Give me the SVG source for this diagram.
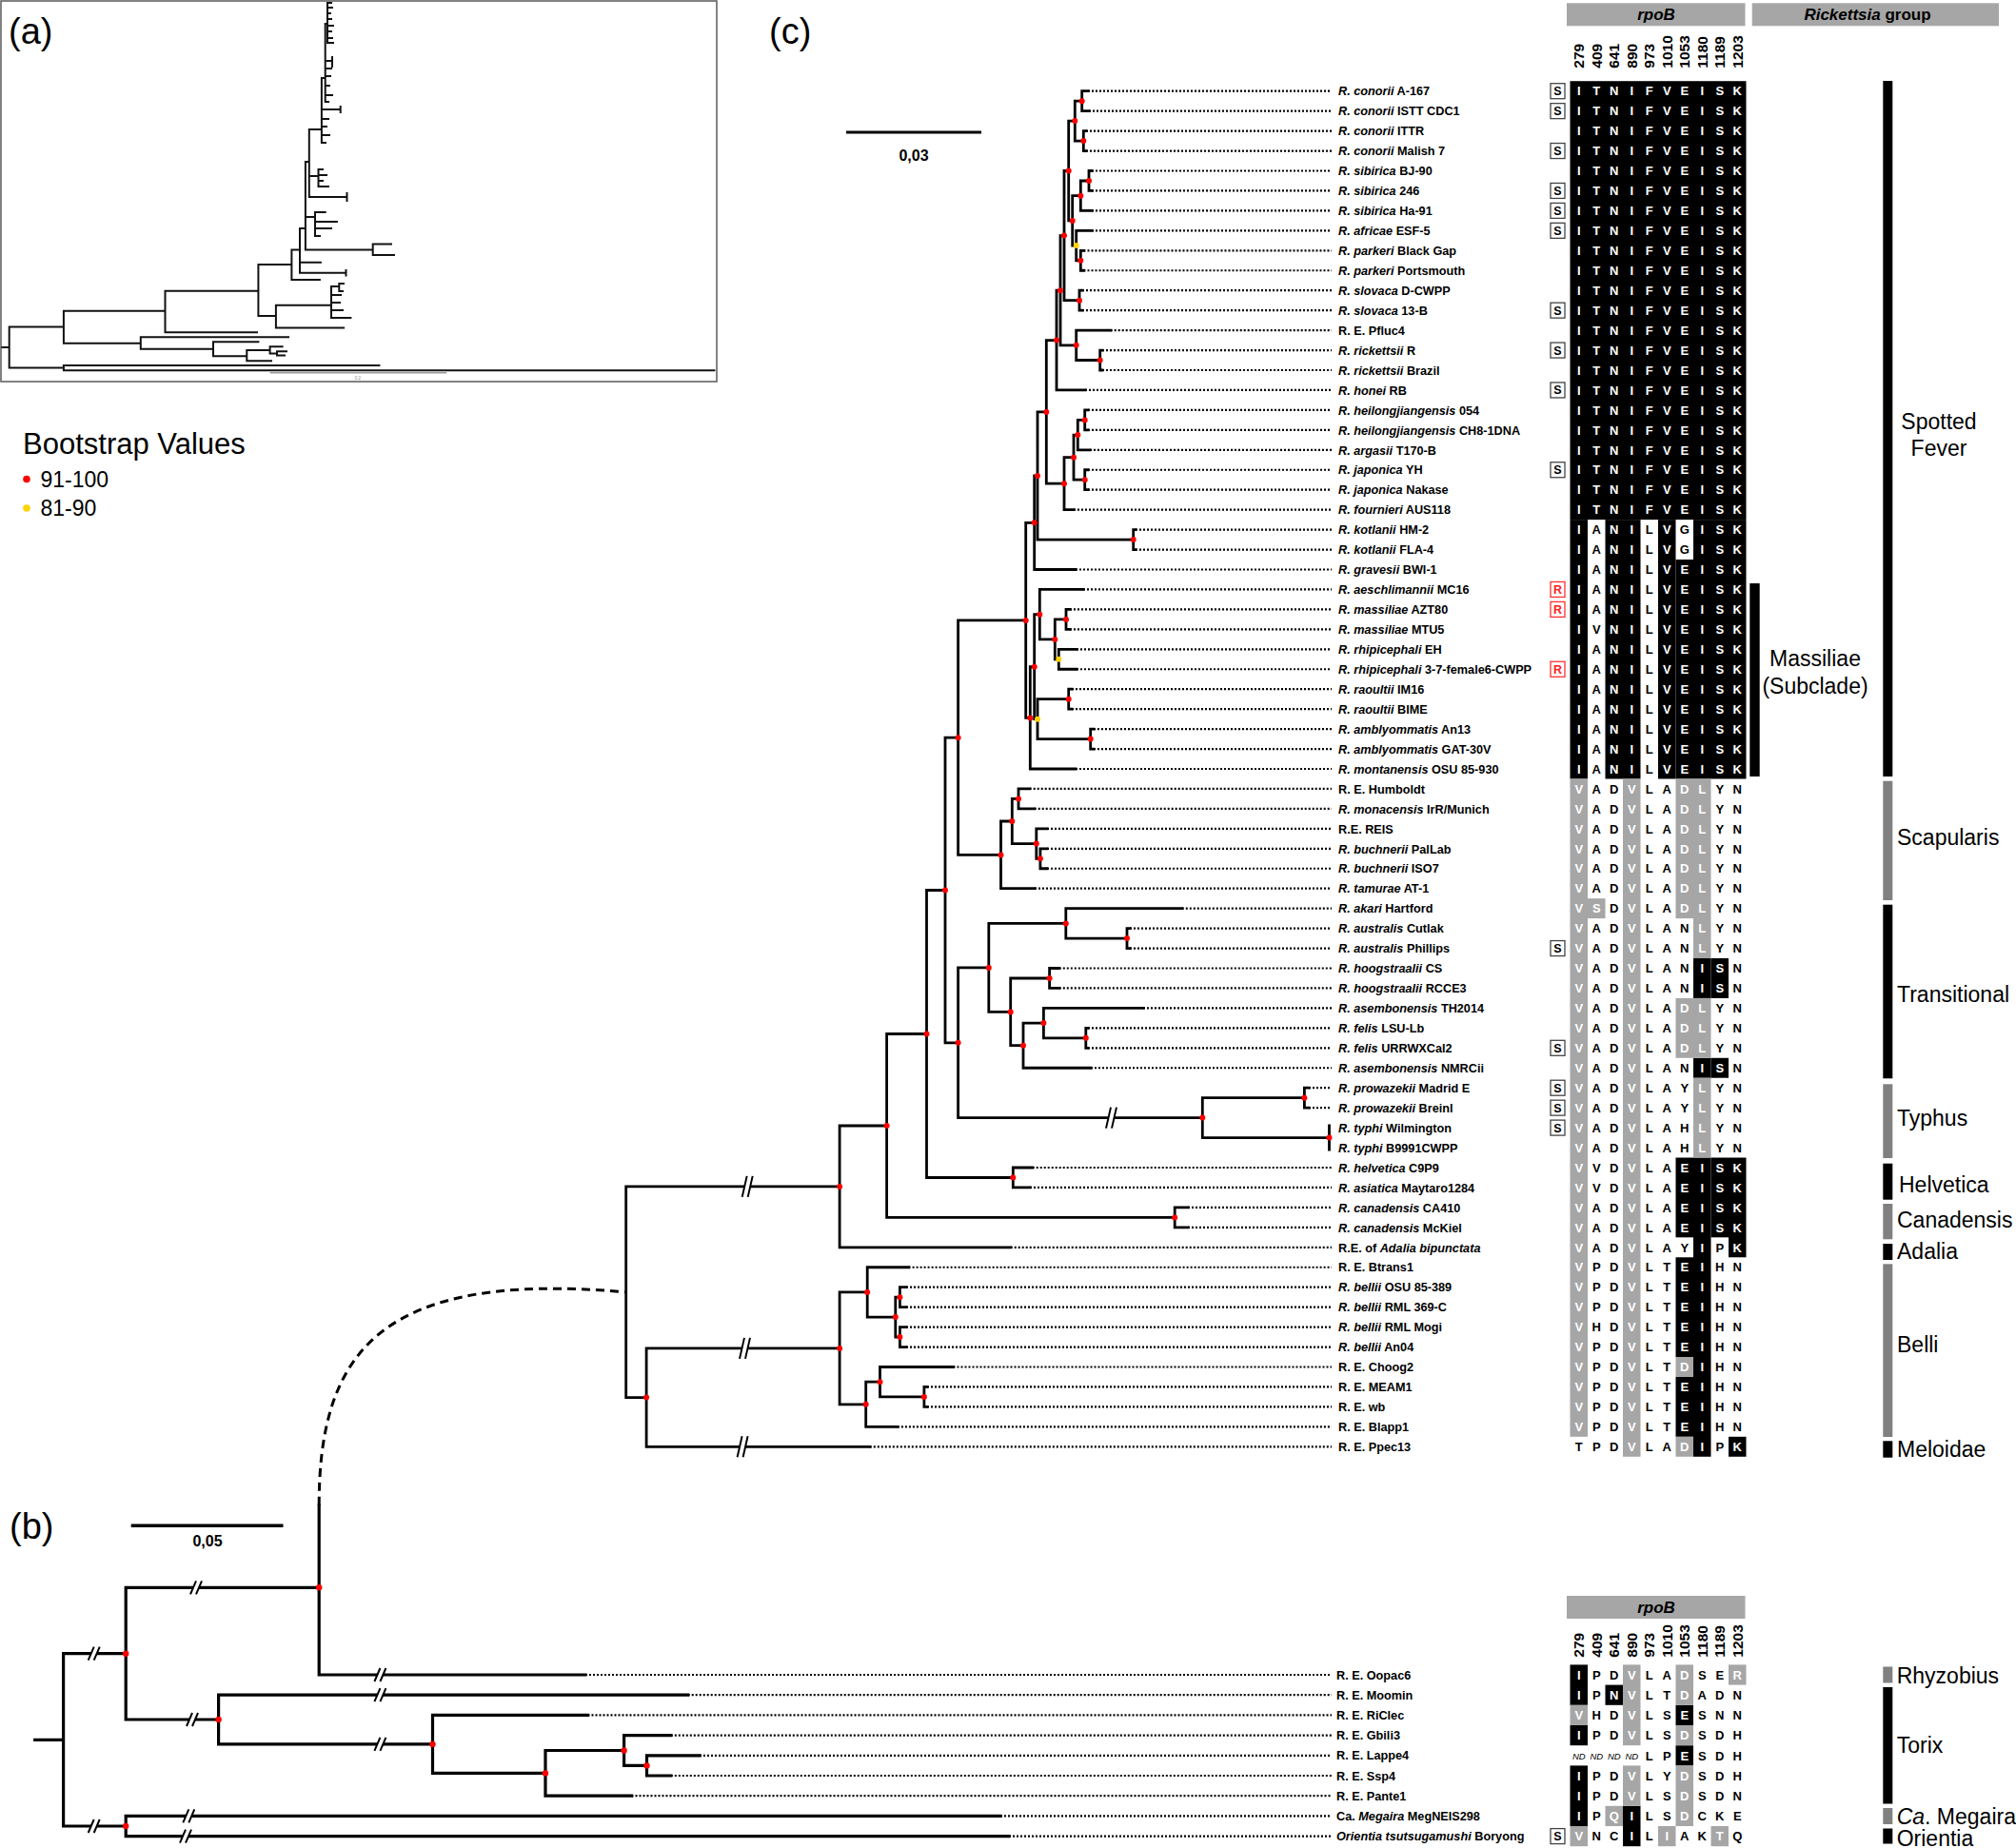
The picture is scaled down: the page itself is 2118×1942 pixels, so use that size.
<svg xmlns="http://www.w3.org/2000/svg" width="2118" height="1942" viewBox="0 0 2118 1942">
<style>
text{font-family:"Liberation Sans",Arial,sans-serif}
.t{stroke:#000;stroke-width:2.8;fill:none;stroke-linecap:square}
.tb{stroke:#000;stroke-width:3.2;fill:none;stroke-linecap:square}
.ta{stroke:#111;stroke-width:2;fill:none;stroke-linecap:square}
.dt{stroke:#000;stroke-width:2.2;stroke-dasharray:2 2;fill:none}
.rd{fill:#ff0000}
.yd{fill:#ffd200}
.lb{font-weight:bold;font-size:12.7px}
.i{font-style:italic}
.w{fill:#fff}
.al{font-weight:bold;font-size:13px;text-anchor:middle}
.hd{font-weight:bold;font-size:15.5px}
.blk{fill:#000}
.gry{fill:#a6a6a6}
.bar{fill:#808080}
.grp{font-size:23px}
.big{font-size:38px}
.sb{fill:#fff;stroke:#444;stroke-width:1.3}
.rb{fill:#fff;stroke:#ff3030;stroke-width:1.3}
.brk{stroke:#000;stroke-width:2;fill:none}
</style>
<defs>
<g id="sbox"><rect class="sb" x="1629" y="-8" width="15" height="16"/><text x="1636.5" y="4.5" font-weight="bold" font-size="12.5" text-anchor="middle">S</text></g>
<g id="rbox"><rect class="rb" x="1629" y="-8" width="15" height="16"/><text x="1636.5" y="4.5" font-weight="bold" font-size="12.5" text-anchor="middle" fill="#ff2020">R</text></g>
<g id="brkC"><polygon points="-4,11 1,-11 7,-11 2,11" fill="#fff"/><path class="brk" d="M-4 11L1 -11M2 11L7 -11"/></g>
<g id="brkB"><polygon points="-6,7 0,-7 6,-7 0,7" fill="#fff"/><path class="brk" d="M-6 7L0 -7M0 7L6 -7"/></g>
<g id="rpob"><rect class="gry" x="1646" y="0" width="187.5" height="24"/><text x="1740" y="17.5" font-weight="bold" font-style="italic" font-size="17" text-anchor="middle">rpoB</text></g>
<g id="nums" class="hd">
<text transform="translate(1664.3,0) rotate(-90)">279</text>
<text transform="translate(1682.8,0) rotate(-90)">409</text>
<text transform="translate(1701.3,0) rotate(-90)">641</text>
<text transform="translate(1719.8,0) rotate(-90)">890</text>
<text transform="translate(1738.3,0) rotate(-90)">973</text>
<text transform="translate(1756.8,0) rotate(-90)">1010</text>
<text transform="translate(1775.3,0) rotate(-90)">1053</text>
<text transform="translate(1793.8,0) rotate(-90)">1180</text>
<text transform="translate(1812.3,0) rotate(-90)">1189</text>
<text transform="translate(1830.8,0) rotate(-90)">1203</text>
</g>
<text id="pSF" class="al w" x="1658.75 1677.25 1695.75 1714.25 1732.75 1751.25 1769.75 1788.25 1806.75 1825.25">ITNIFVEISK</text>
<text id="pKot" class="al" x="1658.75 1677.25 1695.75 1714.25 1732.75 1751.25 1769.75 1788.25 1806.75 1825.25"><tspan class="w">I</tspan>A<tspan class="w">NI</tspan>L<tspan class="w">V</tspan>G<tspan class="w">ISK</tspan></text>
<text id="pMas" class="al" x="1658.75 1677.25 1695.75 1714.25 1732.75 1751.25 1769.75 1788.25 1806.75 1825.25"><tspan class="w">I</tspan>A<tspan class="w">NI</tspan>L<tspan class="w">VEISK</tspan></text>
<text id="pMas2" class="al" x="1658.75 1677.25 1695.75 1714.25 1732.75 1751.25 1769.75 1788.25 1806.75 1825.25"><tspan class="w">I</tspan>V<tspan class="w">NI</tspan>L<tspan class="w">VEISK</tspan></text>
<text id="pSca" class="al" x="1658.75 1677.25 1695.75 1714.25 1732.75 1751.25 1769.75 1788.25 1806.75 1825.25"><tspan class="w">V</tspan>AD<tspan class="w">V</tspan>LA<tspan class="w">DL</tspan>YN</text>
<text id="pAka" class="al" x="1658.75 1677.25 1695.75 1714.25 1732.75 1751.25 1769.75 1788.25 1806.75 1825.25"><tspan class="w">VS</tspan>D<tspan class="w">V</tspan>LA<tspan class="w">DL</tspan>YN</text>
<text id="pAus" class="al" x="1658.75 1677.25 1695.75 1714.25 1732.75 1751.25 1769.75 1788.25 1806.75 1825.25"><tspan class="w">V</tspan>AD<tspan class="w">V</tspan>LAN<tspan class="w">L</tspan>YN</text>
<text id="pHoo" class="al" x="1658.75 1677.25 1695.75 1714.25 1732.75 1751.25 1769.75 1788.25 1806.75 1825.25"><tspan class="w">V</tspan>AD<tspan class="w">V</tspan>LAN<tspan class="w">IS</tspan>N</text>
<text id="pPro" class="al" x="1658.75 1677.25 1695.75 1714.25 1732.75 1751.25 1769.75 1788.25 1806.75 1825.25"><tspan class="w">V</tspan>AD<tspan class="w">V</tspan>LAY<tspan class="w">L</tspan>YN</text>
<text id="pTyp" class="al" x="1658.75 1677.25 1695.75 1714.25 1732.75 1751.25 1769.75 1788.25 1806.75 1825.25"><tspan class="w">V</tspan>AD<tspan class="w">V</tspan>LAH<tspan class="w">L</tspan>YN</text>
<text id="pHel" class="al" x="1658.75 1677.25 1695.75 1714.25 1732.75 1751.25 1769.75 1788.25 1806.75 1825.25"><tspan class="w">V</tspan>VD<tspan class="w">V</tspan>LA<tspan class="w">EISK</tspan></text>
<text id="pCan" class="al" x="1658.75 1677.25 1695.75 1714.25 1732.75 1751.25 1769.75 1788.25 1806.75 1825.25"><tspan class="w">V</tspan>AD<tspan class="w">V</tspan>LA<tspan class="w">EISK</tspan></text>
<text id="pAda" class="al" x="1658.75 1677.25 1695.75 1714.25 1732.75 1751.25 1769.75 1788.25 1806.75 1825.25"><tspan class="w">V</tspan>AD<tspan class="w">V</tspan>LAY<tspan class="w">I</tspan>P<tspan class="w">K</tspan></text>
<text id="pBel" class="al" x="1658.75 1677.25 1695.75 1714.25 1732.75 1751.25 1769.75 1788.25 1806.75 1825.25"><tspan class="w">V</tspan>PD<tspan class="w">V</tspan>LT<tspan class="w">EI</tspan>HN</text>
<text id="pMog" class="al" x="1658.75 1677.25 1695.75 1714.25 1732.75 1751.25 1769.75 1788.25 1806.75 1825.25"><tspan class="w">V</tspan>HD<tspan class="w">V</tspan>LT<tspan class="w">EI</tspan>HN</text>
<text id="pCho" class="al" x="1658.75 1677.25 1695.75 1714.25 1732.75 1751.25 1769.75 1788.25 1806.75 1825.25"><tspan class="w">V</tspan>PD<tspan class="w">V</tspan>LT<tspan class="w">DI</tspan>HN</text>
<text id="pPpe" class="al" x="1658.75 1677.25 1695.75 1714.25 1732.75 1751.25 1769.75 1788.25 1806.75 1825.25">TPD<tspan class="w">V</tspan>LA<tspan class="w">DI</tspan>P<tspan class="w">K</tspan></text>
</defs>
<rect width="2118" height="1942" fill="#fff"/>

<!-- panel labels -->
<text class="big" x="9" y="46">(a)</text>
<text class="big" x="808" y="46">(c)</text>
<text class="big" x="10" y="1617">(b)</text>

<!-- panel (a) thumbnail -->
<g id="panelA">
<rect x="1" y="1" width="752" height="400" fill="none" stroke="#595959" stroke-width="1.5"/>
<path class="ta" d="M2.4 365H9.7M9.7 343.6V386.4M9.7 386.4H66.9M66.9 383.9V389.3M66.9 383.9H398.4M66.9 389.3H750.4M9.7 343.6H66.9M66.9 326.8V360.7M66.9 360.7H147.8M147.8 354.3V366.8M147.8 354.3H303M147.8 366.8H224M224 359.3V374.3M224 359.3H271.4M224 374.3H259.3M259.3 367.9V379.3M259.3 379.3H285M259.3 367.9H283.6M283.6 364.3V371.4M283.6 364.3H296.6M283.6 371.4H291M291 369.3V373.5M291 369.3H301M291 373.5H299M66.9 326.8H173.5M173.5 305.7V349.3M173.5 349.3H270M173.5 305.7H271.4M271.4 277.9V332.1M271.4 332.1H289.9M289.9 320.7V344.6M289.9 344.6H361.1M289.9 320.7H348M348 301V334M348 301H356.3M356.3 298V306M356.3 298H361M356.3 306H360M348 310H358M348 318H357M348 326H360M348 334H368.4M271.4 277.9H306.4M306.4 262.5V293.9M306.4 293.9H335.9M306.4 262.5H315M315 240V286.8M315 286.8H363.5M363.5 284V289.5M315 275.7H336.9M315 240H320.9M320.9 170V262.5M320.9 262.5H391.7M391.7 256.4V267.9M391.7 256.4H411M391.7 267.9H414M320.9 228H331M331 223V248M331 223H341.7M331 233H353.9M331 240H348M331 248H336M320.9 170H324.8M324.8 136V207M324.8 207H364.5M364.5 203V211M324.8 185H334.5M334.5 178V196M334.5 178H339M334.5 184H343M334.5 190H339M334.5 196H345M324.8 136H337.9M337.9 82V150M337.9 115H357.7M357.7 112V118M337.9 125H345M337.9 133H343M337.9 142H346M337.9 150H342M337.9 82H341.7M341.7 25V107M341.7 64H349M349 60V70M341.7 72H348M341.7 80H347M341.7 90H346M341.7 100H349M341.7 107H345M341.7 25H344M344 3V45M344 3H348M344 8H349M344 14H347M344 20H348M344 27H350M344 33H348M344 40H349M344 45H350"/>
<path d="M283.6 391.8H469.2" stroke="#9a9a9a" stroke-width="1.5"/>
<text x="376" y="398.5" font-size="4.5" fill="#888" text-anchor="middle">0.2</text>
</g>

<!-- legend -->
<g id="legend">
<text x="24" y="477" font-size="31">Bootstrap Values</text>
<circle class="rd" cx="28" cy="503.5" r="3.8"/>
<text x="42.5" y="511.5" font-size="23">91-100</text>
<circle class="yd" cx="28" cy="534" r="3.8"/>
<text x="42.5" y="542" font-size="23">81-90</text>
</g>

<!-- scale bars -->
<g id="scaleC"><path d="M889 139H1031" stroke="#000" stroke-width="3"/><text x="960" y="169" font-size="16" font-weight="bold" text-anchor="middle">0,03</text></g>
<g id="scaleB"><path d="M137.7 1603.3H297.5" stroke="#000" stroke-width="3.5"/><text x="218" y="1625" font-size="16" font-weight="bold" text-anchor="middle">0,05</text></g>

<!-- connectors: tree branches -->
<g id="connectors">
<path class="t" d="M657.7 1246.9V1468.6M657.7 1246.9H882.1M657.7 1468.6H679.1M882.1 1183V1310.8M882.1 1183H931.6M882.1 1310.8H1061.7M931.6 1086.5V1279.4M931.6 1086.5H973.5M931.6 1279.4H1234.2M973.5 935.5V1237.5M973.5 935.5H993M973.5 1237.5H1064.3M1064.3 1227V1247.95M1064.3 1227H1084.7M1064.3 1247.95H1082M1234.2 1268.9V1289.85M1234.2 1268.9H1248M1234.2 1289.85H1248M993 775.2V1095.8M993 775.2H1006.6M993 1095.8H1006.6M1006.6 651.9V898.4M1006.6 651.9H1077.7M1006.6 898.4H1051.5M1006.6 1016.9V1174.6M1006.6 1016.9H1038.8M1006.6 1174.6H1263.3M1263.3 1153.7V1195.6M1263.3 1153.7H1370.4M1263.3 1195.6H1396.5M1370.4 1143.2V1164.15M1370.4 1143.2H1375M1370.4 1164.15H1375M1396.5 1183V1208M1038.8 970.4V1063.4M1038.8 970.4H1119.8M1038.8 1063.4H1061.7M1119.8 954.65V986.1M1119.8 954.65H1241.8M1119.8 986.1H1184M1184 975.6V996.55M1184 975.6H1187M1184 996.55H1187M1061.7 1028V1098.7M1061.7 1028H1102.6M1061.7 1098.7H1075M1102.6 1017.5V1038.45M1102.6 1017.5H1112.8M1102.6 1038.45H1112.8M1075 1075.1V1122.25M1075 1075.1H1096.4M1075 1122.25H1146M1096.4 1059.4V1090.8M1096.4 1059.4H1201M1096.4 1090.8H1140.8M1140.8 1080.35V1101.3M1140.8 1080.35H1143M1140.8 1101.3H1143M1051.5 863V933.7M1051.5 863H1063.3M1051.5 933.7H1087M1063.3 839.4V886.6M1063.3 839.4H1070M1063.3 886.6H1088.8M1070 828.95V849.9M1070 828.95H1081.7M1070 849.9H1086.7M1088.8 870.85V902.3M1088.8 870.85H1100M1088.8 902.3H1092.9M1092.9 891.8V912.75M1092.9 891.8H1100M1092.9 912.75H1100M1077.7 549.3V754.4M1077.7 549.3H1086.7M1077.7 754.4H1082.3M1086.7 500V598.5M1086.7 500H1090M1086.7 598.5H1130M1090 432.9V567.1M1090 432.9H1099.3M1090 567.1H1190.7M1190.7 556.6V577.55M1190.7 556.6H1193M1190.7 577.55H1193M1099.3 357.6V508.2M1099.3 357.6H1110M1099.3 508.2H1118M1110 305.2V409.95M1110 305.2H1114M1110 409.95H1140M1114 247.6V362.8M1114 247.6H1118M1114 362.8H1130.7M1130.7 347.1V378.5M1130.7 347.1H1166.7M1130.7 378.5H1155.7M1155.7 368.05V389M1155.7 368.05H1158M1155.7 389H1158M1118 179.5V315.7M1118 179.5H1122.7M1118 315.7H1134M1134 305.2V326.15M1134 305.2H1137M1134 326.15H1137M1122.7 127.1V231.9M1122.7 127.1H1129.3M1122.7 231.9H1126.7M1129.3 106.2V148.1M1129.3 106.2H1136.7M1129.3 148.1H1138.3M1136.7 95.7V116.65M1136.7 95.7H1143M1136.7 116.65H1144M1138.3 137.6V158.55M1138.3 137.6H1141M1138.3 158.55H1141M1126.7 205.7V258.1M1126.7 205.7H1135.3M1126.7 258.1H1130.7M1135.3 190V221.4M1135.3 190H1144M1135.3 221.4H1147M1144 179.5V200.45M1144 179.5H1147M1144 200.45H1147M1130.7 242.35V273.8M1130.7 242.35H1147M1130.7 273.8H1135.3M1135.3 263.3V284.25M1135.3 263.3H1138.5M1135.3 284.25H1138.5M1118 480.7V535.65M1118 480.7H1128M1118 535.65H1128M1128 457.1V504.2M1128 457.1H1132.3M1128 504.2H1139.7M1132.3 441.4V472.8M1132.3 441.4H1139.7M1132.3 472.8H1145M1139.7 430.9V451.85M1139.7 430.9H1143M1139.7 451.85H1143M1139.7 493.75V514.7M1139.7 493.75H1143M1139.7 514.7H1143M1082.3 700.7V808M1082.3 700.7H1086.7M1082.3 808H1130M1086.7 645.7V755.7M1086.7 645.7H1092.3M1086.7 755.7H1090M1092.3 619.45V671.9M1092.3 619.45H1138M1092.3 671.9H1108.3M1108.3 650.9V692.8M1108.3 650.9H1120M1108.3 692.8H1112.3M1120 640.4V661.35M1120 640.4H1124M1120 661.35H1124M1112.3 682.3V703.25M1112.3 682.3H1131M1112.3 703.25H1131M1090 734.7V776.6M1090 734.7H1122.7M1090 776.6H1145.7M1122.7 724.2V745.15M1122.7 724.2H1126M1122.7 745.15H1126M1145.7 766.1V787.05M1145.7 766.1H1149M1145.7 787.05H1149M679.1 1416.9V1520.3M679.1 1416.9H882.1M679.1 1520.3H913.8M882.1 1357.9V1475.8M882.1 1357.9H911.2M882.1 1475.8H909.7M911.2 1331.75V1384.1M911.2 1331.75H954.6M911.2 1384.1H940.8M940.8 1363.2V1405.1M940.8 1363.2H945.4M940.8 1405.1H945.4M945.4 1352.7V1373.65M945.4 1352.7H952M945.4 1373.65H952M945.4 1394.6V1415.55M945.4 1394.6H952M945.4 1415.55H952M909.7 1452.2V1499.35M909.7 1452.2H924.5M909.7 1499.35H942.9M924.5 1436.5V1467.9M924.5 1436.5H1001.5M924.5 1467.9H970.9M970.9 1457.45V1478.4M970.9 1457.45H974M970.9 1478.4H974"/>
<path class="dt" d="M1143 95.7H1399M1144 116.65H1399M1141 137.6H1399M1141 158.55H1399M1147 179.5H1399M1147 200.45H1399M1147 221.4H1399M1147 242.35H1399M1138.5 263.3H1399M1138.5 284.25H1399M1137 305.2H1399M1137 326.15H1399M1166.7 347.1H1399M1158 368.05H1399M1158 389H1399M1140 409.95H1399M1143 430.9H1399M1143 451.85H1399M1145 472.8H1399M1143 493.75H1399M1143 514.7H1399M1128 535.65H1399M1193 556.6H1399M1193 577.55H1399M1130 598.5H1399M1138 619.45H1399M1124 640.4H1399M1124 661.35H1399M1131 682.3H1399M1131 703.25H1399M1126 724.2H1399M1126 745.15H1399M1149 766.1H1399M1149 787.05H1399M1130 808H1399M1081.7 828.95H1399M1086.7 849.9H1399M1100 870.85H1399M1100 891.8H1399M1100 912.75H1399M1087 933.7H1399M1241.8 954.65H1399M1187 975.6H1399M1187 996.55H1399M1112.8 1017.5H1399M1112.8 1038.45H1399M1201 1059.4H1399M1143 1080.35H1399M1143 1101.3H1399M1146 1122.25H1399M1375 1143.2H1399M1375 1164.15H1399M1084.7 1227H1399M1082 1247.95H1399M1248 1268.9H1399M1248 1289.85H1399M1061.7 1310.8H1399M954.6 1331.75H1399M952 1352.7H1399M952 1373.65H1399M952 1394.6H1399M952 1415.55H1399M1001.5 1436.5H1399M974 1457.45H1399M974 1478.4H1399M942.9 1499.35H1399M913.8 1520.3H1399"/>
<path class="tb" d="M36.7 1828.4H66.6M66.6 1737.7V1919M66.6 1737.7H132.2M66.6 1919H132.2M132.2 1668.3V1807M132.2 1668.3H335.2M132.2 1807H229.6M335.2 1582V1760M335.2 1760H615M229.6 1781.2V1832.9M229.6 1781.2H722.7M229.6 1832.9H454.5M454.5 1802.4V1863.4M454.5 1802.4H617.5M454.5 1863.4H573M573 1839.5V1887.2M573 1839.5H655.6M573 1887.2H663.5M655.6 1823.6V1855.4M655.6 1823.6H704.8M655.6 1855.4H679.5M679.5 1844.8V1866M679.5 1844.8H735M679.5 1866H704.8M132.2 1908.4V1929.6M132.2 1908.4H1051M132.2 1929.6H1060"/>
<path class="dt" d="M615 1760H1399M722.7 1781.2H1399M617.5 1802.4H1399M704.8 1823.6H1399M735 1844.8H1399M704.8 1866H1399M663.5 1887.2H1399M1051 1908.4H1399M1060 1929.6H1399"/>
<path d="M335.2 1582C335.2 1420 400 1335 657.7 1357.8" fill="none" stroke="#000" stroke-width="3" stroke-dasharray="9 6"/>
<use href="#brkC" x="783.7" y="1246.9"/>
<use href="#brkC" x="781" y="1416.9"/>
<use href="#brkC" x="778.6" y="1520.3"/>
<use href="#brkC" x="1166" y="1174.6"/>
<use href="#brkB" x="98.7" y="1737.7"/>
<use href="#brkB" x="98.7" y="1919"/>
<use href="#brkB" x="206" y="1668.3"/>
<use href="#brkB" x="202" y="1807"/>
<use href="#brkB" x="399.4" y="1760"/>
<use href="#brkB" x="399.4" y="1781.2"/>
<use href="#brkB" x="399.4" y="1832.9"/>
<use href="#brkB" x="198.3" y="1908.4"/>
<use href="#brkB" x="195" y="1929.6"/>
</g>

<!-- bootstrap dots -->
<g id="bootstrap">
<g class="rd">
<circle cx="1136.7" cy="106.2" r="3"/><circle cx="1138.3" cy="148.1" r="3"/><circle cx="1129.3" cy="127.1" r="3"/><circle cx="1144" cy="190" r="3"/><circle cx="1135.3" cy="205.7" r="3"/><circle cx="1135.3" cy="273.8" r="3"/><circle cx="1126.7" cy="231.9" r="3"/><circle cx="1122.7" cy="179.5" r="3"/><circle cx="1134" cy="315.7" r="3"/><circle cx="1118" cy="247.6" r="3"/><circle cx="1155.7" cy="378.5" r="3"/><circle cx="1130.7" cy="362.8" r="3"/><circle cx="1114" cy="305.2" r="3"/><circle cx="1110" cy="357.6" r="3"/><circle cx="1139.7" cy="441.4" r="3"/><circle cx="1132.3" cy="457.1" r="3"/><circle cx="1139.7" cy="504.2" r="3"/><circle cx="1128" cy="480.7" r="3"/><circle cx="1118" cy="508.2" r="3"/><circle cx="1099.3" cy="432.9" r="3"/><circle cx="1190.7" cy="567.1" r="3"/><circle cx="1090" cy="500" r="3"/><circle cx="1086.7" cy="549.3" r="3"/><circle cx="1120" cy="650.9" r="3"/><circle cx="1108.3" cy="671.9" r="3"/><circle cx="1092.3" cy="645.7" r="3"/><circle cx="1122.7" cy="734.7" r="3"/><circle cx="1145.7" cy="776.6" r="3"/><circle cx="1086.7" cy="700.7" r="3"/><circle cx="1082.3" cy="754.4" r="3"/><circle cx="1077.7" cy="651.9" r="3"/><circle cx="1070" cy="839.4" r="3"/><circle cx="1092.9" cy="902.3" r="3"/><circle cx="1088.8" cy="886.6" r="3"/><circle cx="1063.3" cy="863" r="3"/><circle cx="1051.5" cy="898.4" r="3"/><circle cx="1006.6" cy="775.2" r="3"/><circle cx="1184" cy="986.1" r="3"/><circle cx="1119.8" cy="970.4" r="3"/><circle cx="1102.6" cy="1028" r="3"/><circle cx="1140.8" cy="1090.8" r="3"/><circle cx="1096.4" cy="1075.1" r="3"/><circle cx="1075" cy="1098.7" r="3"/><circle cx="1061.7" cy="1063.4" r="3"/><circle cx="1038.8" cy="1016.9" r="3"/><circle cx="1370.4" cy="1153.7" r="3"/><circle cx="1396.5" cy="1195.6" r="3"/><circle cx="1263.3" cy="1174.6" r="3"/><circle cx="1006.6" cy="1095.8" r="3"/><circle cx="993" cy="935.5" r="3"/><circle cx="1064.3" cy="1237.5" r="3"/><circle cx="973.5" cy="1086.5" r="3"/><circle cx="1234.2" cy="1279.4" r="3"/><circle cx="931.6" cy="1183" r="3"/><circle cx="882.1" cy="1246.9" r="3"/><circle cx="945.4" cy="1363.2" r="3"/><circle cx="945.4" cy="1405.1" r="3"/><circle cx="940.8" cy="1384.1" r="3"/><circle cx="911.2" cy="1357.9" r="3"/><circle cx="970.9" cy="1467.9" r="3"/><circle cx="924.5" cy="1452.2" r="3"/><circle cx="909.7" cy="1475.8" r="3"/><circle cx="882.1" cy="1416.9" r="3"/><circle cx="679.1" cy="1468.6" r="3"/>
<circle cx="132.2" cy="1737.7" r="3.2"/><circle cx="335.2" cy="1668.3" r="3.2"/><circle cx="229.6" cy="1807" r="3.2"/><circle cx="454.5" cy="1832.9" r="3.2"/><circle cx="573" cy="1863.4" r="3.2"/><circle cx="655.6" cy="1839.5" r="3.2"/><circle cx="679.5" cy="1855.4" r="3.2"/><circle cx="132.2" cy="1919" r="3.2"/>
</g>
<g class="yd"><circle cx="1130.7" cy="258.1" r="3"/><circle cx="1112.3" cy="692.8" r="3"/><circle cx="1090" cy="755.7" r="3"/></g>
</g>

<!-- taxon labels (c) -->
<g id="taxaC" class="lb">
<g id="tx01"><text x="1406" y="100.4"><tspan class="i">R. conorii</tspan> A-167</text></g>
<g id="tx02"><text x="1406" y="121.35"><tspan class="i">R. conorii</tspan> ISTT CDC1</text></g>
<g id="tx03"><text x="1406" y="142.3"><tspan class="i">R. conorii</tspan> ITTR</text></g>
<g id="tx04"><text x="1406" y="163.25"><tspan class="i">R. conorii</tspan> Malish 7</text></g>
<g id="tx05"><text x="1406" y="184.2"><tspan class="i">R. sibirica</tspan> BJ-90</text></g>
<g id="tx06"><text x="1406" y="205.15"><tspan class="i">R. sibirica</tspan> 246</text></g>
<g id="tx07"><text x="1406" y="226.1"><tspan class="i">R. sibirica</tspan> Ha-91</text></g>
<g id="tx08"><text x="1406" y="247.05"><tspan class="i">R. africae</tspan> ESF-5</text></g>
<g id="tx09"><text x="1406" y="268"><tspan class="i">R. parkeri</tspan> Black Gap</text></g>
<g id="tx10"><text x="1406" y="288.95"><tspan class="i">R. parkeri</tspan> Portsmouth</text></g>
<g id="tx11"><text x="1406" y="309.9"><tspan class="i">R. slovaca</tspan> D-CWPP</text></g>
<g id="tx12"><text x="1406" y="330.85"><tspan class="i">R. slovaca</tspan> 13-B</text></g>
<g id="tx13"><text x="1406" y="351.8">R. E. Pfluc4</text></g>
<g id="tx14"><text x="1406" y="372.75"><tspan class="i">R. rickettsii</tspan> R</text></g>
<g id="tx15"><text x="1406" y="393.7"><tspan class="i">R. rickettsii</tspan> Brazil</text></g>
<g id="tx16"><text x="1406" y="414.65"><tspan class="i">R. honei</tspan> RB</text></g>
<g id="tx17"><text x="1406" y="435.6"><tspan class="i">R. heilongjiangensis</tspan> 054</text></g>
<g id="tx18"><text x="1406" y="456.55"><tspan class="i">R. heilongjiangensis</tspan> CH8-1DNA</text></g>
<g id="tx19"><text x="1406" y="477.5"><tspan class="i">R. argasii</tspan> T170-B</text></g>
<g id="tx20"><text x="1406" y="498.45"><tspan class="i">R. japonica</tspan> YH</text></g>
<g id="tx21"><text x="1406" y="519.4"><tspan class="i">R. japonica</tspan> Nakase</text></g>
<g id="tx22"><text x="1406" y="540.35"><tspan class="i">R. fournieri</tspan> AUS118</text></g>
<g id="tx23"><text x="1406" y="561.3"><tspan class="i">R. kotlanii</tspan> HM-2</text></g>
<g id="tx24"><text x="1406" y="582.25"><tspan class="i">R. kotlanii</tspan> FLA-4</text></g>
<g id="tx25"><text x="1406" y="603.2"><tspan class="i">R. gravesii</tspan> BWI-1</text></g>
<g id="tx26"><text x="1406" y="624.15"><tspan class="i">R. aeschlimannii</tspan> MC16</text></g>
<g id="tx27"><text x="1406" y="645.1"><tspan class="i">R. massiliae</tspan> AZT80</text></g>
<g id="tx28"><text x="1406" y="666.05"><tspan class="i">R. massiliae</tspan> MTU5</text></g>
<g id="tx29"><text x="1406" y="687"><tspan class="i">R. rhipicephali</tspan> EH</text></g>
<g id="tx30"><text x="1406" y="707.95"><tspan class="i">R. rhipicephali</tspan> 3-7-female6-CWPP</text></g>
<g id="tx31"><text x="1406" y="728.9"><tspan class="i">R. raoultii</tspan> IM16</text></g>
<g id="tx32"><text x="1406" y="749.85"><tspan class="i">R. raoultii</tspan> BIME</text></g>
<g id="tx33"><text x="1406" y="770.8"><tspan class="i">R. amblyommatis</tspan> An13</text></g>
<g id="tx34"><text x="1406" y="791.75"><tspan class="i">R. amblyommatis</tspan> GAT-30V</text></g>
<g id="tx35"><text x="1406" y="812.7"><tspan class="i">R. montanensis</tspan> OSU 85-930</text></g>
<g id="tx36"><text x="1406" y="833.65">R. E. Humboldt</text></g>
<g id="tx37"><text x="1406" y="854.6"><tspan class="i">R. monacensis</tspan> IrR/Munich</text></g>
<g id="tx38"><text x="1406" y="875.55">R.E. REIS</text></g>
<g id="tx39"><text x="1406" y="896.5"><tspan class="i">R. buchnerii</tspan> PalLab</text></g>
<g id="tx40"><text x="1406" y="917.45"><tspan class="i">R. buchnerii</tspan> ISO7</text></g>
<g id="tx41"><text x="1406" y="938.4"><tspan class="i">R. tamurae</tspan> AT-1</text></g>
<g id="tx42"><text x="1406" y="959.35"><tspan class="i">R. akari</tspan> Hartford</text></g>
<g id="tx43"><text x="1406" y="980.3"><tspan class="i">R. australis</tspan> Cutlak</text></g>
<g id="tx44"><text x="1406" y="1001.25"><tspan class="i">R. australis</tspan> Phillips</text></g>
<g id="tx45"><text x="1406" y="1022.2"><tspan class="i">R. hoogstraalii</tspan> CS</text></g>
<g id="tx46"><text x="1406" y="1043.15"><tspan class="i">R. hoogstraalii</tspan> RCCE3</text></g>
<g id="tx47"><text x="1406" y="1064.1"><tspan class="i">R. asembonensis</tspan> TH2014</text></g>
<g id="tx48"><text x="1406" y="1085.05"><tspan class="i">R. felis</tspan> LSU-Lb</text></g>
<g id="tx49"><text x="1406" y="1106"><tspan class="i">R. felis</tspan> URRWXCal2</text></g>
<g id="tx50"><text x="1406" y="1126.95"><tspan class="i">R. asembonensis</tspan> NMRCii</text></g>
<g id="tx51"><text x="1406" y="1147.9"><tspan class="i">R. prowazekii</tspan> Madrid E</text></g>
<g id="tx52"><text x="1406" y="1168.85"><tspan class="i">R. prowazekii</tspan> Breinl</text></g>
<g id="tx53"><text x="1406" y="1189.8"><tspan class="i">R. typhi</tspan> Wilmington</text></g>
<g id="tx54"><text x="1406" y="1210.75"><tspan class="i">R. typhi</tspan> B9991CWPP</text></g>
<g id="tx55"><text x="1406" y="1231.7"><tspan class="i">R. helvetica</tspan> C9P9</text></g>
<g id="tx56"><text x="1406" y="1252.65"><tspan class="i">R. asiatica</tspan> Maytaro1284</text></g>
<g id="tx57"><text x="1406" y="1273.6"><tspan class="i">R. canadensis</tspan> CA410</text></g>
<g id="tx58"><text x="1406" y="1294.55"><tspan class="i">R. canadensis</tspan> McKiel</text></g>
<g id="tx59"><text x="1406" y="1315.5">R.E. of <tspan class="i">Adalia bipunctata</tspan></text></g>
<g id="tx60"><text x="1406" y="1336.45">R. E. Btrans1</text></g>
<g id="tx61"><text x="1406" y="1357.4"><tspan class="i">R. bellii</tspan> OSU 85-389</text></g>
<g id="tx62"><text x="1406" y="1378.35"><tspan class="i">R. bellii</tspan> RML 369-C</text></g>
<g id="tx63"><text x="1406" y="1399.3"><tspan class="i">R. bellii</tspan> RML Mogi</text></g>
<g id="tx64"><text x="1406" y="1420.25"><tspan class="i">R. bellii</tspan> An04</text></g>
<g id="tx65"><text x="1406" y="1441.2">R. E. Choog2</text></g>
<g id="tx66"><text x="1406" y="1462.15">R. E. MEAM1</text></g>
<g id="tx67"><text x="1406" y="1483.1">R. E. wb</text></g>
<g id="tx68"><text x="1406" y="1504.05">R. E. Blapp1</text></g>
<g id="tx69"><text x="1406" y="1525">R. E. Ppec13</text></g>
</g>

<!-- taxon labels (b) -->
<g id="taxaB" class="lb">
<g id="tb1"><text x="1404" y="1764.5">R. E. Oopac6</text></g>
<g id="tb2"><text x="1404" y="1785.7">R. E. Moomin</text></g>
<g id="tb3"><text x="1404" y="1806.9">R. E. RiClec</text></g>
<g id="tb4"><text x="1404" y="1828.1">R. E. Gbili3</text></g>
<g id="tb5"><text x="1404" y="1849.3">R. E. Lappe4</text></g>
<g id="tb6"><text x="1404" y="1870.5">R. E. Ssp4</text></g>
<g id="tb7"><text x="1404" y="1891.7">R. E. Pante1</text></g>
<g id="tb8"><text x="1404" y="1912.9">Ca. <tspan class="i">Megaira</tspan> MegNEIS298</text></g>
<g id="tb9"><text x="1404" y="1934.1"><tspan class="i">Orientia tsutsugamushi</tspan> Boryong</text></g>
</g>

<!-- alignment headers -->
<g id="headers">
<use href="#rpob" y="3.3"/>
<rect class="gry" x="1840.7" y="3.3" width="259.3" height="24"/>
<text x="1962" y="21" font-weight="bold" font-size="17" text-anchor="middle"><tspan class="i">Rickettsia</tspan> group</text>
<use href="#nums" y="71.7"/>
<use href="#rpob" y="1677"/>
<use href="#nums" y="1741.7"/>
</g>

<!-- alignment (c) -->
<g id="alignC">
<g class="blk">
<rect x="1649.5" y="85.22" width="185" height="460.9"/>
<rect x="1649.5" y="546.12" width="18.5" height="272.35"/>
<rect x="1686.5" y="546.12" width="37" height="272.35"/>
<rect x="1742" y="546.12" width="18.5" height="272.35"/>
<rect x="1779" y="546.12" width="55.5" height="272.35"/>
<rect x="1760.5" y="588.02" width="18.5" height="230.45"/>
<rect x="1760.5" y="1216.52" width="18.5" height="83.8"/>
<rect x="1760.5" y="1321.27" width="18.5" height="104.75"/>
<rect x="1760.5" y="1446.97" width="18.5" height="62.85"/>
<rect x="1779" y="1007.02" width="18.5" height="41.9"/>
<rect x="1779" y="1111.77" width="18.5" height="20.95"/>
<rect x="1779" y="1216.52" width="18.5" height="314.25"/>
<rect x="1797.5" y="1007.02" width="18.5" height="41.9"/>
<rect x="1797.5" y="1111.77" width="18.5" height="20.95"/>
<rect x="1797.5" y="1216.52" width="18.5" height="83.8"/>
<rect x="1816" y="1216.52" width="18.5" height="104.75"/>
<rect x="1816" y="1509.82" width="18.5" height="20.95"/>
</g>
<g class="gry">
<rect x="1649.5" y="818.47" width="18.5" height="691.35"/>
<rect x="1668" y="944.17" width="18.5" height="20.95"/>
<rect x="1705" y="818.47" width="18.5" height="712.3"/>
<rect x="1760.5" y="818.47" width="18.5" height="146.65"/>
<rect x="1760.5" y="1048.92" width="18.5" height="62.85"/>
<rect x="1760.5" y="1426.02" width="18.5" height="20.95"/>
<rect x="1760.5" y="1509.82" width="18.5" height="20.95"/>
<rect x="1779" y="818.47" width="18.5" height="188.55"/>
<rect x="1779" y="1048.92" width="18.5" height="62.85"/>
<rect x="1779" y="1132.72" width="18.5" height="83.8"/>
</g>
<use href="#pSF" y="100.4"/><use href="#pSF" y="121.35"/><use href="#pSF" y="142.3"/><use href="#pSF" y="163.25"/><use href="#pSF" y="184.2"/><use href="#pSF" y="205.15"/><use href="#pSF" y="226.1"/><use href="#pSF" y="247.05"/><use href="#pSF" y="268"/><use href="#pSF" y="288.95"/><use href="#pSF" y="309.9"/><use href="#pSF" y="330.85"/><use href="#pSF" y="351.8"/><use href="#pSF" y="372.75"/><use href="#pSF" y="393.7"/><use href="#pSF" y="414.65"/><use href="#pSF" y="435.6"/><use href="#pSF" y="456.55"/><use href="#pSF" y="477.5"/><use href="#pSF" y="498.45"/><use href="#pSF" y="519.4"/><use href="#pSF" y="540.35"/>
<use href="#pKot" y="561.3"/><use href="#pKot" y="582.25"/>
<use href="#pMas" y="603.2"/><use href="#pMas" y="624.15"/><use href="#pMas" y="645.1"/><use href="#pMas2" y="666.05"/><use href="#pMas" y="687"/><use href="#pMas" y="707.95"/><use href="#pMas" y="728.9"/><use href="#pMas" y="749.85"/><use href="#pMas" y="770.8"/><use href="#pMas" y="791.75"/><use href="#pMas" y="812.7"/>
<use href="#pSca" y="833.65"/><use href="#pSca" y="854.6"/><use href="#pSca" y="875.55"/><use href="#pSca" y="896.5"/><use href="#pSca" y="917.45"/><use href="#pSca" y="938.4"/>
<use href="#pAka" y="959.35"/>
<use href="#pAus" y="980.3"/><use href="#pAus" y="1001.25"/>
<use href="#pHoo" y="1022.2"/><use href="#pHoo" y="1043.15"/>
<use href="#pSca" y="1064.1"/><use href="#pSca" y="1085.05"/><use href="#pSca" y="1106"/>
<use href="#pHoo" y="1126.95"/>
<use href="#pPro" y="1147.9"/><use href="#pPro" y="1168.85"/>
<use href="#pTyp" y="1189.8"/><use href="#pTyp" y="1210.75"/>
<use href="#pHel" y="1231.7"/><use href="#pHel" y="1252.65"/>
<use href="#pCan" y="1273.6"/><use href="#pCan" y="1294.55"/>
<use href="#pAda" y="1315.5"/>
<use href="#pBel" y="1336.45"/><use href="#pBel" y="1357.4"/><use href="#pBel" y="1378.35"/><use href="#pMog" y="1399.3"/><use href="#pBel" y="1420.25"/><use href="#pCho" y="1441.2"/><use href="#pBel" y="1462.15"/><use href="#pBel" y="1483.1"/><use href="#pBel" y="1504.05"/>
<use href="#pPpe" y="1525"/>
<use href="#sbox" y="95.7"/><use href="#sbox" y="116.65"/><use href="#sbox" y="158.55"/><use href="#sbox" y="200.45"/><use href="#sbox" y="221.4"/><use href="#sbox" y="242.35"/><use href="#sbox" y="326.15"/><use href="#sbox" y="368.05"/><use href="#sbox" y="409.95"/><use href="#sbox" y="493.75"/><use href="#sbox" y="996.55"/><use href="#sbox" y="1101.3"/><use href="#sbox" y="1143.2"/><use href="#sbox" y="1164.15"/><use href="#sbox" y="1185.1"/>
<use href="#rbox" y="619.45"/><use href="#rbox" y="640.4"/><use href="#rbox" y="703.25"/>
</g>

<!-- alignment (b) -->
<g id="alignB">
<g class="blk">
<rect x="1649.5" y="1749.4" width="18.5" height="42.4"/>
<rect x="1649.5" y="1813" width="18.5" height="21.2"/>
<rect x="1649.5" y="1855.4" width="18.5" height="63.6"/>
<rect x="1686.5" y="1770.6" width="18.5" height="21.2"/>
<rect x="1705" y="1897.8" width="18.5" height="42.4"/>
<rect x="1760.5" y="1791.8" width="18.5" height="21.2"/>
<rect x="1760.5" y="1834.2" width="18.5" height="21.2"/>
</g>
<g class="gry">
<rect x="1649.5" y="1791.8" width="18.5" height="21.2"/>
<rect x="1649.5" y="1919" width="18.5" height="21.2"/>
<rect x="1686.5" y="1897.8" width="18.5" height="21.2"/>
<rect x="1705" y="1749.4" width="18.5" height="84.8"/>
<rect x="1705" y="1855.4" width="18.5" height="42.4"/>
<rect x="1742" y="1919" width="18.5" height="21.2"/>
<rect x="1760.5" y="1749.4" width="18.5" height="42.4"/>
<rect x="1760.5" y="1813" width="18.5" height="21.2"/>
<rect x="1760.5" y="1855.4" width="18.5" height="63.6"/>
<rect x="1797.5" y="1919" width="18.5" height="21.2"/>
<rect x="1816" y="1749.4" width="18.5" height="21.2"/>
</g>
<g class="al">
<text x="1658.75 1677.25 1695.75 1714.25 1732.75 1751.25 1769.75 1788.25 1806.75 1825.25" y="1764.7"><tspan class="w">I</tspan>PD<tspan class="w">V</tspan>LA<tspan class="w">D</tspan>SE<tspan class="w">R</tspan></text>
<text x="1658.75 1677.25 1695.75 1714.25 1732.75 1751.25 1769.75 1788.25 1806.75 1825.25" y="1785.9"><tspan class="w">I</tspan>P<tspan class="w">NV</tspan>LT<tspan class="w">D</tspan>ADN</text>
<text x="1658.75 1677.25 1695.75 1714.25 1732.75 1751.25 1769.75 1788.25 1806.75 1825.25" y="1807.1"><tspan class="w">V</tspan>HD<tspan class="w">V</tspan>LS<tspan class="w">E</tspan>SNN</text>
<text x="1658.75 1677.25 1695.75 1714.25 1732.75 1751.25 1769.75 1788.25 1806.75 1825.25" y="1828.3"><tspan class="w">I</tspan>PD<tspan class="w">V</tspan>LS<tspan class="w">D</tspan>SDH</text>
<text x="1732.75 1751.25 1769.75 1788.25 1806.75 1825.25" y="1849.5">LP<tspan class="w">E</tspan>SDH</text>
<text x="1658.75 1677.25 1695.75 1714.25 1732.75 1751.25 1769.75 1788.25 1806.75 1825.25" y="1870.7"><tspan class="w">I</tspan>PD<tspan class="w">V</tspan>LY<tspan class="w">D</tspan>SDH</text>
<text x="1658.75 1677.25 1695.75 1714.25 1732.75 1751.25 1769.75 1788.25 1806.75 1825.25" y="1891.9"><tspan class="w">I</tspan>PD<tspan class="w">V</tspan>LS<tspan class="w">D</tspan>SDN</text>
<text x="1658.75 1677.25 1695.75 1714.25 1732.75 1751.25 1769.75 1788.25 1806.75 1825.25" y="1913.1"><tspan class="w">I</tspan>P<tspan class="w">QI</tspan>LS<tspan class="w">D</tspan>CKE</text>
<text x="1658.75 1677.25 1695.75 1714.25 1732.75 1751.25 1769.75 1788.25 1806.75 1825.25" y="1934.3"><tspan class="w">V</tspan>NC<tspan class="w">I</tspan>L<tspan class="w">I</tspan>AK<tspan class="w">T</tspan>Q</text>
</g>
<g font-size="9.5" font-style="italic" text-anchor="middle">
<text x="1658.75" y="1848.5">ND</text><text x="1677.25" y="1848.5">ND</text><text x="1695.75" y="1848.5">ND</text><text x="1714.25" y="1848.5">ND</text>
</g>
<use href="#sbox" y="1929.6"/>
</g>

<!-- group bars and labels -->
<g id="groups">
<rect class="blk" x="1978.3" y="85" width="10" height="731"/>
<rect class="bar" x="1978.3" y="820.7" width="10" height="125.3"/>
<rect class="blk" x="1978.3" y="950.7" width="10" height="182.6"/>
<rect class="bar" x="1978.3" y="1139.3" width="10" height="77.7"/>
<rect class="blk" x="1978.3" y="1222.7" width="10" height="38"/>
<rect class="bar" x="1978.3" y="1265" width="10" height="37.3"/>
<rect class="blk" x="1978.3" y="1307" width="10" height="17"/>
<rect class="bar" x="1978.3" y="1328.3" width="10" height="181.7"/>
<rect class="blk" x="1978.3" y="1514.3" width="10" height="17.4"/>
<rect class="blk" x="1838.3" y="613" width="10.4" height="203"/>
<rect class="bar" x="1978.3" y="1751.5" width="10" height="17"/>
<rect class="blk" x="1978.3" y="1773" width="10" height="122.5"/>
<rect class="bar" x="1978.3" y="1900" width="10" height="17"/>
<rect class="blk" x="1978.3" y="1921.5" width="10" height="16"/>
<g class="grp">
<text x="2037" y="451" text-anchor="middle">Spotted</text>
<text x="2037" y="479" text-anchor="middle">Fever</text>
<text x="1907" y="700" text-anchor="middle">Massiliae</text>
<text x="1907" y="729" text-anchor="middle">(Subclade)</text>
<text x="1993" y="888">Scapularis</text>
<text x="1993" y="1053">Transitional</text>
<text x="1993" y="1183">Typhus</text>
<text x="1995" y="1253">Helvetica</text>
<text x="1993" y="1290">Canadensis</text>
<text x="1993" y="1323">Adalia</text>
<text x="1993" y="1421">Belli</text>
<text x="1993" y="1531">Meloidae</text>
<text x="1992.7" y="1768.5">Rhyzobius</text>
<text x="1992.7" y="1842">Torix</text>
<text x="1992.7" y="1916.5"><tspan class="i">Ca</tspan>. Megaira</text>
<text x="1992.7" y="1939.5">Orientia</text>
</g>
</g>
</svg>
